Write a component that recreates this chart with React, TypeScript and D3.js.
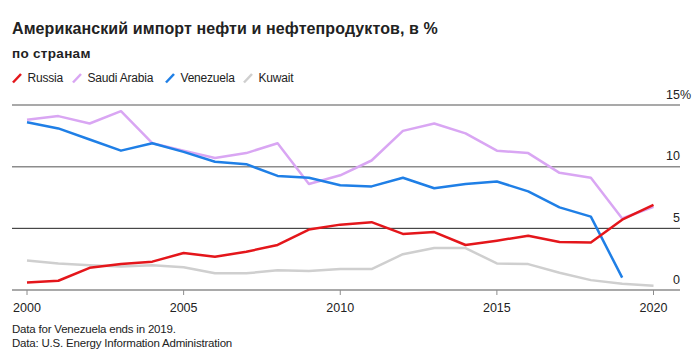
import React from "react";
import * as d3 from "d3";

const years = d3.range(2000, 2021);
const russia = [0.6, 0.75, 1.8, 2.1, 2.3, 3.0, 2.7, 3.1, 3.65, 4.9, 5.3, 5.5, 4.55, 4.7, 3.65, 4.0, 4.4, 3.9, 3.85, 5.7, 6.9];
const saudi = [13.8, 14.1, 13.5, 14.5, 11.9, 11.3, 10.7, 11.1, 11.9, 8.6, 9.3, 10.5, 12.9, 13.5, 12.7, 11.3, 11.1, 9.5, 9.1, 5.8, 6.75];
const venezuela = [13.6, 13.1, 12.2, 11.3, 11.9, 11.2, 10.4, 10.2, 9.25, 9.1, 8.5, 8.4, 9.1, 8.25, 8.6, 8.8, 8.0, 6.7, 5.95, 1.0];
const kuwait = [2.4, 2.15, 2.0, 1.9, 2.0, 1.85, 1.35, 1.35, 1.6, 1.55, 1.7, 1.7, 2.9, 3.4, 3.4, 2.15, 2.1, 1.4, 0.8, 0.5, 0.35];
const yTicks = [0, 5, 10, 15];
const xTicks = [2000, 2005, 2010, 2015, 2020];

const series = [
  { name: "Russia", values: russia, color: "#e4161b" },
  { name: "Saudi Arabia", values: saudi, color: "#d9a6f3" },
  { name: "Venezuela", values: venezuela, color: "#1f7fe6" },
  { name: "Kuwait", values: kuwait, color: "#cfcfcf" },
];
const drawOrder = ["Kuwait", "Saudi Arabia", "Venezuela", "Russia"];
const legendX = [12, 72, 165, 243];

const FONT = "'Liberation Sans', Arial, Helvetica, sans-serif";

export default function App() {
  const W = 700, H = 360;
  const x = d3.scaleLinear().domain([2000, 2020]).range([27, 653.5]);
  const y = d3.scaleLinear().domain([0, 15]).range([290, 105]);
  const line = d3
    .line<number>()
    .x((_, i) => x(years[i]))
    .y((d) => y(d));

  return (
    <svg width={W} height={H} style={{ position: "absolute", left: 0, top: 0, background: "#fff" }} fontFamily={FONT}>
      <text x={12} y={33.5} fontSize={16} fontWeight="bold" fill="#222" letterSpacing={0.1}>
        Американский импорт нефти и нефтепродуктов, в %
      </text>
      <text x={12} y={57.5} fontSize={13.5} fontWeight="bold" fill="#222" letterSpacing={0.3}>
        по странам
      </text>
      {series.map((s, i) => (
        <g key={s.name}>
          <line x1={legendX[i] + 1} y1={82.5} x2={legendX[i] + 9} y2={74} stroke={s.color} strokeWidth={2.5} />
          <text x={legendX[i] + 15.5} y={82} fontSize={12} fill="#222" letterSpacing={-0.2}>
            {s.name}
          </text>
        </g>
      ))}
      {yTicks.map((t) => (
        <g key={t}>
          {t !== 0 && (
            <line
              x1={12}
              x2={680}
              y1={y(t)}
              y2={y(t)}
              stroke={t === 5 ? "#222" : "#8c8c8c"}
              strokeWidth={t === 5 ? 1 : 1.5}
            />
          )}
          <text x={680} y={y(t) - 6.5} fontSize={12.5} textAnchor="end" fill="#222">
            {t}
          </text>
          {t === 15 && (
            <text x={680} y={y(t) - 6.5} fontSize={12.5} fill="#222">
              %
            </text>
          )}
        </g>
      ))}
      {drawOrder.map((n) => {
        const s = series.find((d) => d.name === n)!;
        return (
          <path key={n} d={line(s.values) || ""} fill="none" stroke={s.color} strokeWidth={2.5} strokeLinejoin="round" />
        );
      })}
      <line x1={12} x2={680} y1={290} y2={290} stroke="#8c8c8c" strokeWidth={1.5} />
      {xTicks.map((t) => (
        <g key={t}>
          <line x1={x(t)} x2={x(t)} y1={290} y2={295} stroke="#8c8c8c" strokeWidth={1} />
          <text x={x(t)} y={312} fontSize={12.5} textAnchor="middle" fill="#222">
            {t}
          </text>
        </g>
      ))}
      <text x={12} y={333} fontSize={11.5} fill="#222" letterSpacing={-0.2}>
        Data for Venezuela ends in 2019.
      </text>
      <text x={12} y={347} fontSize={11.5} fill="#222" letterSpacing={-0.2}>
        Data: U.S. Energy Information Administration
      </text>
    </svg>
  );
}
